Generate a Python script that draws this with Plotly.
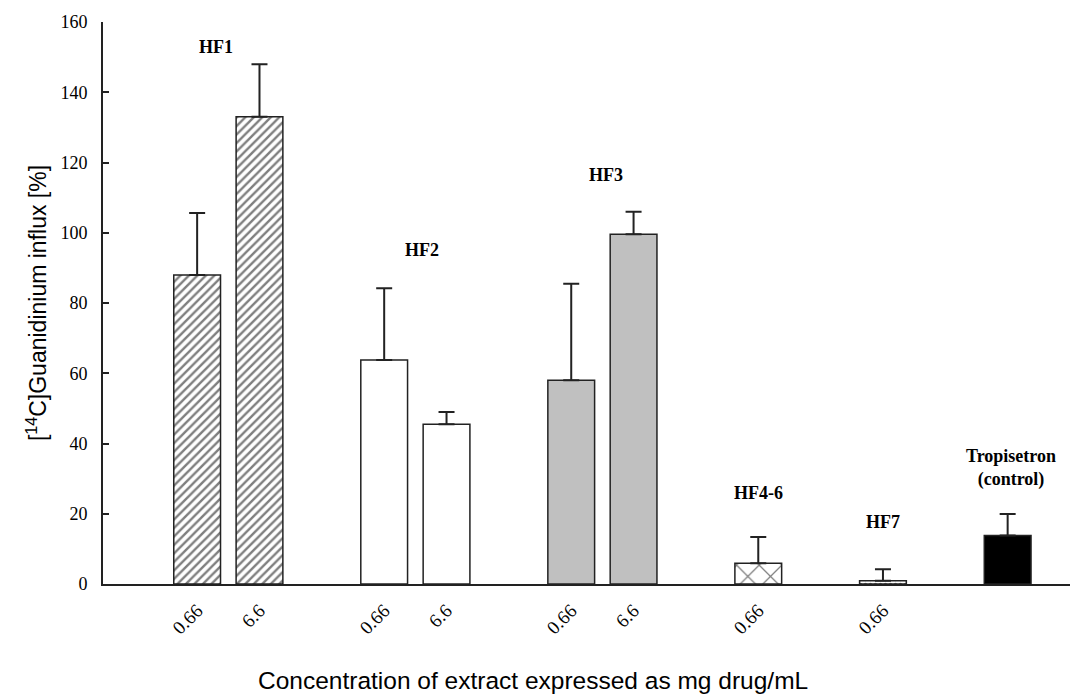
import plotly.graph_objects as go

# Data
groups = ["HF1", "HF2", "HF3", "HF4-6", "HF7", "Tropisetron<br>(control)"]
group_x = [[0, 1], [3, 4], [6, 7], [9], [11], [13]]
group_vals = [[88, 133], [63.8, 45.5], [58, 99.6], [5.9], [0.9], [13.8]]
group_err_top = [[105.6, 148], [84.2, 49], [85.5, 106], [13.4], [4.2], [19.9]]
tick_pos = [0, 1, 3, 4, 6, 7, 9, 11]
tick_labels = ["0.66", "6.6", "0.66", "6.6", "0.66", "6.6", "0.66", "0.66"]
label_pos = [(0.3, 153), (3.6, 95), (6.55, 116.5), (9.0, 26), (11.0, 17.7), (13.05, 33)]
x_title = "Concentration of extract expressed as mg drug/mL"
y_title = "[<sup>14</sup>C]Guanidinium influx [%]"

styles = [
    dict(color="white", pattern=dict(shape="/", fgcolor="black", bgcolor="white", size=6, solidity=0.4)),
    dict(color="white"),
    dict(color="#c0c0c0"),
    dict(color="white", pattern=dict(shape="x", fgcolor="black", bgcolor="white", size=16, solidity=0.15)),
    dict(color="white", pattern=dict(shape=".", fgcolor="black", bgcolor="white", size=5, solidity=0.35)),
    dict(color="black"),
]

fig = go.Figure()
for xs, vs, es, st in zip(group_x, group_vals, group_err_top, styles):
    fig.add_trace(go.Bar(
        x=xs, y=vs, width=0.75,
        marker=dict(line=dict(color="#222", width=1.5), **st),
        error_y=dict(type="data", symmetric=False,
                     array=[e - v for e, v in zip(es, vs)],
                     arrayminus=[0] * len(vs),
                     color="#222", thickness=2, width=8),
        showlegend=False,
    ))

for name, (lx, ly) in zip(groups, label_pos):
    fig.add_annotation(x=lx, y=ly, text=f"<b>{name}</b>", showarrow=False,
                       font=dict(family="Liberation Serif", size=18, color="black"))

fig.add_annotation(xref="paper", yref="paper", x=0.445, y=-0.172, yanchor="middle",
                   text=x_title, showarrow=False,
                   font=dict(family="Liberation Sans", size=24.5, color="black"))

fig.update_layout(
    width=1073, height=694,
    margin=dict(l=103, r=3, t=22, b=110),
    plot_bgcolor="white", paper_bgcolor="white",
    xaxis=dict(range=[-1.51, 14.0], tickmode="array", tickvals=tick_pos, ticktext=tick_labels,
               tickangle=-45, showgrid=False, zeroline=False, showline=True,
               linecolor="#222", linewidth=2, ticks="", ticklabelstandoff=6,
               tickfont=dict(family="Liberation Serif", size=19, color="black")),
    yaxis=dict(range=[0, 160], tickvals=list(range(0, 161, 20)), showgrid=False, zeroline=False,
               showline=True, linecolor="#222", linewidth=2, ticks="inside", ticklen=6,
               tickcolor="#222", tickwidth=1.5, ticklabelstandoff=10,
               tickfont=dict(family="Liberation Serif", size=18, color="black"),
               title=dict(text=y_title,
                          font=dict(family="Liberation Sans", size=23, color="black"), standoff=7)),
)

fig.write_html("out.html")
